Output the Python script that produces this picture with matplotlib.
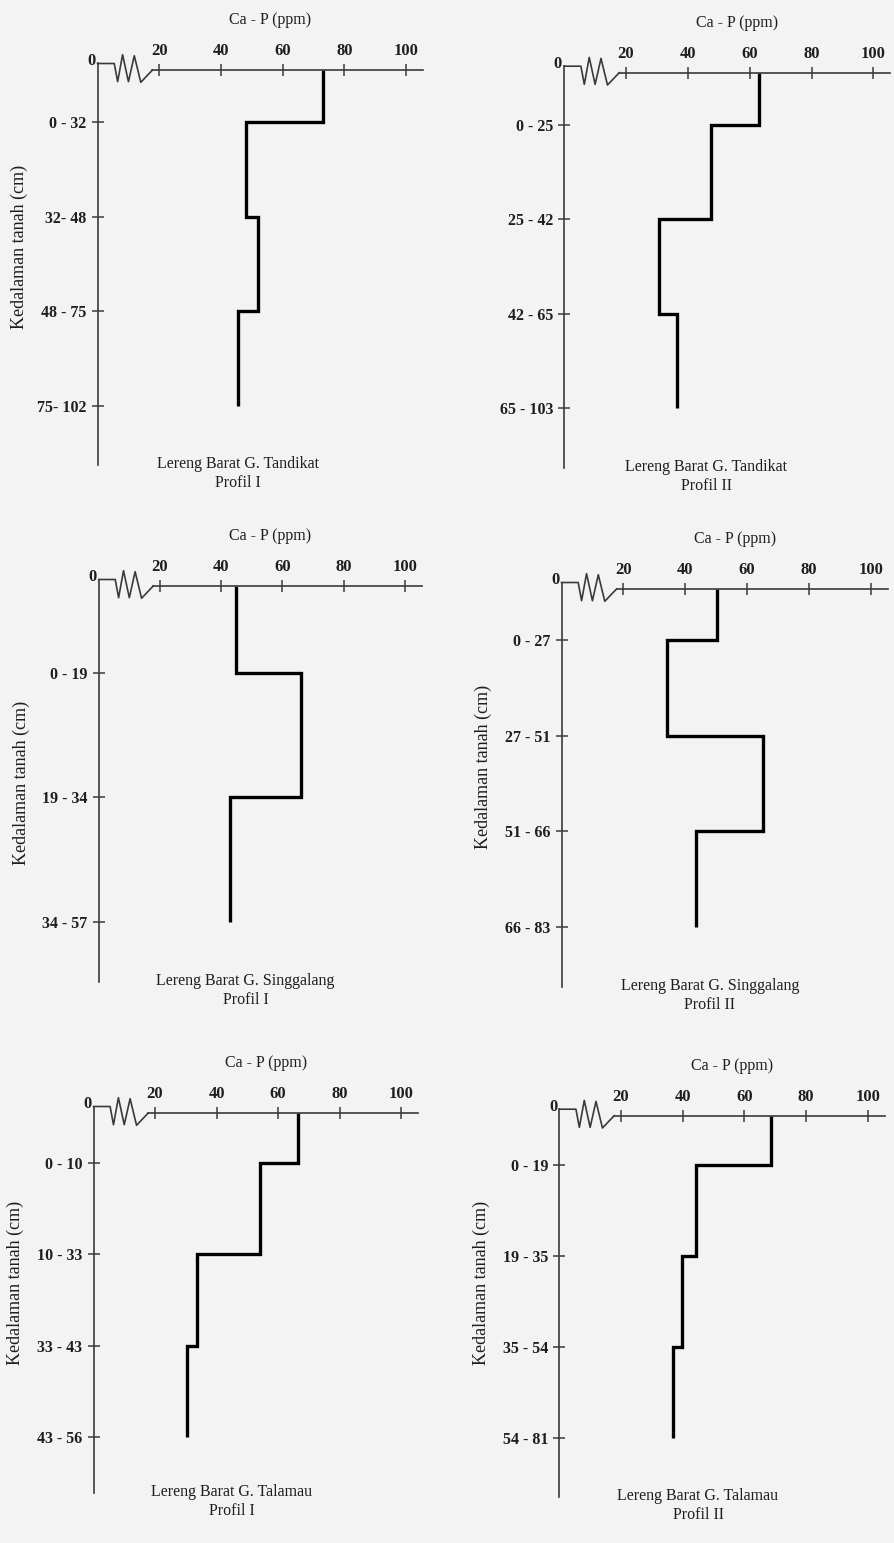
# Ca-P (ppm) profiles against soil depth, six soil profiles

import matplotlib
matplotlib.use("Agg")
import matplotlib.pyplot as plt
import matplotlib.transforms as mtransforms


# values
sites = ["Lereng Barat G. Tandikat", "Lereng Barat G. Tandikat",
         "Lereng Barat G. Singgalang", "Lereng Barat G. Singgalang",
         "Lereng Barat G. Talamau", "Lereng Barat G. Talamau"]
profiles = ["Profil I", "Profil II", "Profil I", "Profil II", "Profil I", "Profil II"]

depths_tandikat_1 = ["0 - 32", "32- 48", "48 - 75", "75- 102"]
cap_tandikat_1 = [73, 48, 52, 45.5]

depths_tandikat_2 = ["0 - 25", "25 - 42", "42 - 65", "65 - 103"]
cap_tandikat_2 = [63, 47.5, 30.5, 36.5]

depths_singgalang_1 = ["0 - 19", "19 - 34", "34 - 57"]
cap_singgalang_1 = [44.7, 66, 42.8]

depths_singgalang_2 = ["0 - 27", "27 - 51", "51 - 66", "66 - 83"]
cap_singgalang_2 = [50.4, 34, 65.3, 43.4]

depths_talamau_1 = ["0 - 10", "10 - 33", "33 - 43", "43 - 56"]
cap_talamau_1 = [66.6, 54, 33.8, 30.5]

depths_talamau_2 = ["0 - 19", "19 - 35", "35 - 54", "54 - 81"]
cap_talamau_2 = [68.7, 44.3, 39.7, 36.8]

x_ticks = [20, 40, 60, 80, 100]

depths = [depths_tandikat_1, depths_tandikat_2, depths_singgalang_1,
          depths_singgalang_2, depths_talamau_1, depths_talamau_2]
values = [cap_tandikat_1, cap_tandikat_2, cap_singgalang_1,
          cap_singgalang_2, cap_talamau_1, cap_talamau_2]

###

# layout in pixels: x of zero, px per ppm, top line, bottom of y axis
W, H = 894, 1543
zero_px = [97.6, 564.2, 98.7, 561.5, 93.5, 559.3]
ppu = [3.084, 3.092, 3.062, 3.092, 3.075, 3.083]
top_px = [70, 72.7, 586, 589, 1113, 1115.7]
bottom_px = [465, 468, 982, 987, 1493, 1497]
ylim_top = [0.451, 0.446, 0.297, 0.466, 0.448, 0.459]
ylim_bottom = [4.623, 4.636, 3.486, 4.631, 4.618, 4.644]
caption_x = [45.5, 46, 48, 48, 45, 45]
ylabel_y = [0.553, None, 0.503, 0.553, 0.553, 0.561]
XMAX = 105.5

# axis break drawn at the start of the x axis
break_x = [0, 5.4, 6.5, 8.1, 10.0, 11.9, 14.0, 17.8]
break_dy = [6.5, 6.5, -11.7, 15.3, -11.7, 14.3, -12.3, 0]

axis_color = "#3a3a3a"
text_color = "#1e1e1e"

plt.rcParams["font.family"] = ["Liberation Serif", "DejaVu Serif"]
plt.rcParams["font.size"] = 11.5
plt.rcParams["text.color"] = text_color

fig = plt.figure(figsize=(W / 100, H / 100), dpi=100)
fig.patch.set_facecolor("#f3f3f3")

for i in range(6):
    h = bottom_px[i] - top_px[i]
    rect = [zero_px[i] / W, 1 - bottom_px[i] / H, XMAX * ppu[i] / W, h / H]
    ax = fig.add_axes(rect)
    ax.set_facecolor("none")
    for s in ax.spines.values():
        s.set_visible(False)

    n = len(depths[i])
    ax.set_xlim(0, XMAX)
    ax.set_ylim(ylim_bottom[i], ylim_top[i])

    edges = [ylim_top[i]] + list(range(1, n + 1))
    ax.stairs(values[i], edges, orientation="horizontal", baseline=None,
              color="black", lw=2.4)

    trans = mtransforms.blended_transform_factory(ax.transData, ax.transAxes)
    ax.plot([0, 0], [0, 1 + break_dy[0] / h], transform=trans,
            color=axis_color, lw=1.2, clip_on=False)
    ax.plot(break_x, [1 + d / h for d in break_dy], transform=trans,
            color=axis_color, lw=1.2, clip_on=False)
    ax.plot([break_x[-1], XMAX], [1, 1], transform=trans,
            color=axis_color, lw=1.2, clip_on=False)

    ax.xaxis.tick_top()
    ax.set_xticks(x_ticks)
    ax.set_xticklabels([str(t) for t in x_ticks], fontweight="bold")
    ax.tick_params(axis="x", direction="inout", length=9, width=1.1,
                   color=axis_color, pad=3.5, labelsize=12, labelcolor=text_color)
    ax.set_yticks(list(range(1, n + 1)))
    ax.set_yticklabels(depths[i], fontweight="bold")
    ax.tick_params(axis="y", direction="inout", length=8, width=1.1,
                   color=axis_color, pad=4, labelsize=11.5, labelcolor=text_color)

    ax.annotate("0", xy=(0, 1), xycoords=trans, xytext=(-4.5, 6.5),
                textcoords="offset points", ha="center", va="center",
                fontweight="bold", fontsize=12)
    ax.annotate("Ca - P (ppm)", xy=(56, 1), xycoords=trans, xytext=(0, 36),
                textcoords="offset points", ha="center", va="center")
    ax.annotate(sites[i] + "\n" + profiles[i], xy=(caption_x[i], 0),
                xycoords=trans, xytext=(0, 6.5), textcoords="offset points",
                ha="center", va="top", linespacing=1.25, multialignment="center")
    if ylabel_y[i] is not None:
        ax.annotate("Kedalaman tanah (cm)", xy=(0, ylabel_y[i]),
                    xycoords="axes fraction", xytext=(-56, 0),
                    textcoords="offset points", rotation=90,
                    ha="center", va="center", fontsize=13)

fig.savefig("out.png", dpi=100, facecolor=fig.get_facecolor())
